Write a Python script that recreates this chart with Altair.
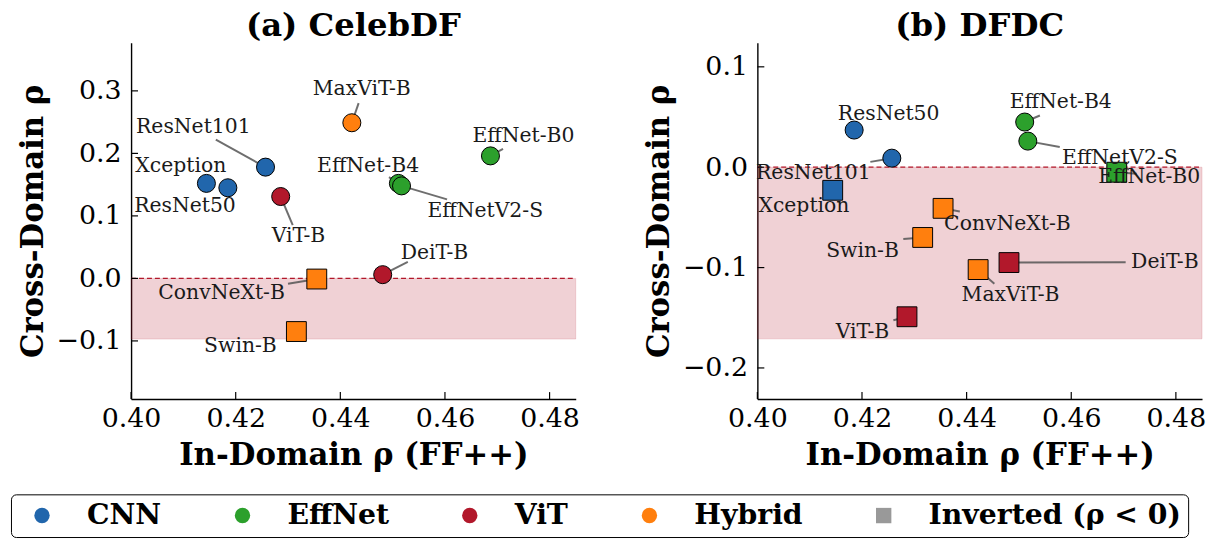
import altair as alt
import pandas as pd

# ---------------- data ----------------
models = ["Xception", "ResNet50", "ResNet101", "ViT-B", "MaxViT-B", "EffNet-B4",
          "EffNetV2-S", "EffNet-B0", "DeiT-B", "ConvNeXt-B", "Swin-B"]
families = ["CNN", "CNN", "CNN", "ViT", "Hybrid", "EffNet",
            "EffNet", "EffNet", "ViT", "Hybrid", "Hybrid"]
in_domain = [0.4144, 0.4185, 0.4257, 0.4286, 0.4422, 0.4511,
             0.4517, 0.4687, 0.4481, 0.4355, 0.4316]
cross_celebdf = [0.152, 0.145, 0.178, 0.131, 0.249, 0.152,
                 0.148, 0.196, 0.006, -0.001, -0.085]
cross_dfdc = [-0.023, 0.037, 0.009, -0.149, -0.102, 0.045,
              0.026, -0.005, -0.095, -0.041, -0.070]

family_names = ["CNN", "EffNet", "ViT", "Hybrid"]
family_colors = ["#2166ac", "#2ca02c", "#b2182b", "#ff7f0e"]
legend_labels = ["CNN", "EffNet", "ViT", "Hybrid", "Inverted (\u03c1 < 0)"]
legend_colors = family_colors + ["#999999"]
legend_shapes = ["circle", "circle", "circle", "circle", "square"]

x_ticks = [0.40, 0.42, 0.44, 0.46, 0.48]
y_ticks_celebdf = [-0.1, 0.0, 0.1, 0.2, 0.3]
y_ticks_dfdc = [-0.2, -0.1, 0.0, 0.1]

# annotation layout (label centre, leader-line end) in data units
layout_celebdf = {
    "Xception": (0.4095, 0.1796, None, None),
    "ResNet50": (0.4103, 0.1160, None, None),
    "ResNet101": (0.4119, 0.2427, 0.4162, 0.2220),
    "ViT-B": (0.4320, 0.0682, 0.4309, 0.0851),
    "MaxViT-B": (0.4441, 0.3027, 0.4435, 0.2804),
    "EffNet-B4": (0.4453, 0.1796, 0.4493, 0.1620),
    "EffNetV2-S": (0.4677, 0.1074, 0.4604, 0.1265),
    "EffNet-B0": (0.4750, 0.2284, 0.4711, 0.2072),
    "DeiT-B": (0.4580, 0.0405, 0.4529, 0.0263),
    "ConvNeXt-B": (0.4173, -0.0242, 0.4300, -0.0084),
    "Swin-B": (0.4209, -0.1084, 0.4299, -0.0895),
}
layout_dfdc = {
    "Xception": (0.4089, -0.0383, None, None),
    "ResNet50": (0.4251, 0.0531, None, None),
    "ResNet101": (0.4107, -0.0063, 0.4216, 0.0053),
    "ViT-B": (0.4201, -0.1640, 0.4260, -0.1525),
    "MaxViT-B": (0.4484, -0.1277, 0.4453, -0.1162),
    "EffNet-B4": (0.4580, 0.0647, 0.4540, 0.0515),
    "EffNetV2-S": (0.4693, 0.0096, 0.4578, 0.0201),
    "EffNet-B0": (0.4749, -0.0096, 0.4725, -0.0066),
    "DeiT-B": (0.4779, -0.0947, 0.4704, -0.0947),
    "ConvNeXt-B": (0.4478, -0.0568, 0.4387, -0.0442),
    "Swin-B": (0.4201, -0.0832, 0.4279, -0.0716),
}

x_domain = [0.40, 0.485]
y_domain_celebdf = [-0.193, 0.377]
y_domain_dfdc = [-0.231, 0.124]
band_low_celebdf = -0.097
band_low_dfdc = -0.171

W, H = 448, 359
FONT = "DejaVu Serif"


def panel(cross, title, y_domain, y_ticks, band_low, layout, with_legend):
    df = pd.DataFrame({"model": models, "family": families,
                       "x": in_domain, "y": cross})
    circles = df[df["y"] >= 0]
    squares = df[df["y"] < 0]
    labels = pd.DataFrame([{"model": m, "tx": v[0], "ty": v[1]}
                           for m, v in layout.items()])
    lines = pd.DataFrame([{"model": m, "px": in_domain[models.index(m)],
                           "py": cross[models.index(m)], "lx": v[2], "ly": v[3]}
                          for m, v in layout.items() if v[2] is not None])
    xs = alt.Scale(domain=x_domain, nice=False, zero=False)
    ys = alt.Scale(domain=y_domain, nice=False, zero=False)
    fam = alt.Scale(domain=family_names, range=family_colors)
    xax = alt.Axis(title="In-Domain \u03c1 (FF++)", values=x_ticks, format=".2f",
                   ticks=False, labelPadding=7, titlePadding=9)
    yax = alt.Axis(title="Cross-Domain \u03c1", values=y_ticks, format=".1f",
                   ticks=False, labelPadding=10, titlePadding=7)

    def X(f):
        return alt.X(f, scale=xs, axis=xax, title="In-Domain \u03c1 (FF++)")

    def Y(f):
        return alt.Y(f, scale=ys, axis=yax, title="Cross-Domain \u03c1")

    band_df = pd.DataFrame({"x0": [x_domain[0]], "x1": [x_domain[1]],
                            "y0": [0.0], "y1": [band_low]})
    band = alt.Chart(band_df).mark_rect(
        fill="#b2182b", fillOpacity=0.2, stroke="#b2182b",
        strokeOpacity=0.15, strokeWidth=1
    ).encode(x=X("x0:Q"), x2="x1:Q", y=Y("y0:Q"), y2="y1:Q")

    zero_df = pd.DataFrame({"x0": [x_domain[0]], "x1": [x_domain[1]], "y": [0.0]})
    zero = alt.Chart(zero_df).mark_rule(
        color="#b2182b", strokeWidth=1.3, strokeDash=[5, 3]
    ).encode(x=X("x0:Q"), x2="x1:Q", y=Y("y:Q"))

    xt = alt.Chart(pd.DataFrame({"v": x_ticks})).mark_rule(
        color="black", strokeWidth=1.2
    ).encode(x=X("v:Q"), y=alt.value(H), y2=alt.value(H - 7))
    yt = alt.Chart(pd.DataFrame({"v": y_ticks})).mark_rule(
        color="black", strokeWidth=1.2
    ).encode(y=Y("v:Q"), x=alt.value(0), x2=alt.value(7))

    leaders = alt.Chart(lines).mark_rule(
        color="#555555", strokeWidth=2, opacity=0.85
    ).encode(x=X("px:Q"), y=Y("py:Q"), x2="lx:Q", y2="ly:Q")

    pc = alt.Chart(circles).mark_circle(
        size=330, stroke="black", strokeWidth=1, opacity=1
    ).encode(x=X("x:Q"), y=Y("y:Q"),
             color=alt.Color("family:N", scale=fam, legend=None))
    ps = alt.Chart(squares).mark_square(
        size=400, stroke="black", strokeWidth=1, opacity=1
    ).encode(x=X("x:Q"), y=Y("y:Q"),
             color=alt.Color("family:N", scale=fam, legend=None))

    txt = alt.Chart(labels).mark_text(
        font=FONT, fontSize=20.5, color="#1a1a1a", align="center", baseline="middle"
    ).encode(x=X("tx:Q"), y=Y("ty:Q"), text="model:N")

    layers = [band, zero, xt, yt, leaders, pc, ps, txt]
    if with_legend:
        leg_kw = dict(title=None, orient="none", legendX=-121, legendY=455,
                      direction="horizontal", columns=5, symbolSize=240,
                      symbolStrokeColor="black", symbolStrokeWidth=1,
                      symbolOpacity=1, symbolOffset=10, labelFont=FONT, labelFontSize=28.5,
                      labelFontWeight="bold", labelColor="black", labelLimit=0,
                      labelOffset=31, columnPadding=57, strokeColor="black",
                      cornerRadius=5, padding=7, fillColor="white")
        dummy = alt.Chart(pd.DataFrame({"entry": legend_labels})).mark_point(
            filled=True, opacity=0, stroke="black", strokeWidth=1
        ).encode(
            fill=alt.Fill("entry:N", scale=alt.Scale(domain=legend_labels, range=legend_colors),
                          legend=alt.Legend(**leg_kw)),
            shape=alt.Shape("entry:N", scale=alt.Scale(domain=legend_labels, range=legend_shapes),
                            legend=alt.Legend(**leg_kw)),
        )
        layers.append(dummy)

    return alt.layer(*layers).properties(
        width=W, height=H,
        title=alt.TitleParams(title, font=FONT, fontSize=32.5, fontWeight="bold",
                              anchor="middle", frame="group", offset=0, color="black"),
    )


pa = panel(cross_celebdf, "(a) CelebDF", y_domain_celebdf, y_ticks_celebdf,
           band_low_celebdf, layout_celebdf, True)
pb = panel(cross_dfdc, "(b) DFDC", y_domain_dfdc, y_ticks_dfdc,
           band_low_dfdc, layout_dfdc, False)

chart = alt.hconcat(pa, pb, spacing=64).properties(
    padding={"left": 2, "top": 0, "right": 0, "bottom": 0}
).configure_view(stroke=None).configure_axis(
    domainColor="black", domainWidth=1.4, grid=False,
    labelFont=FONT, labelFontSize=27, labelColor="black",
    titleFont=FONT, titleFontSize=31, titleFontWeight="bold", titleColor="black",
    labelFlush=False,
).configure_legend(symbolStrokeColor="black", symbolStrokeWidth=1)

chart.save("out.html", embed_options={"renderer": "svg", "actions": False})
